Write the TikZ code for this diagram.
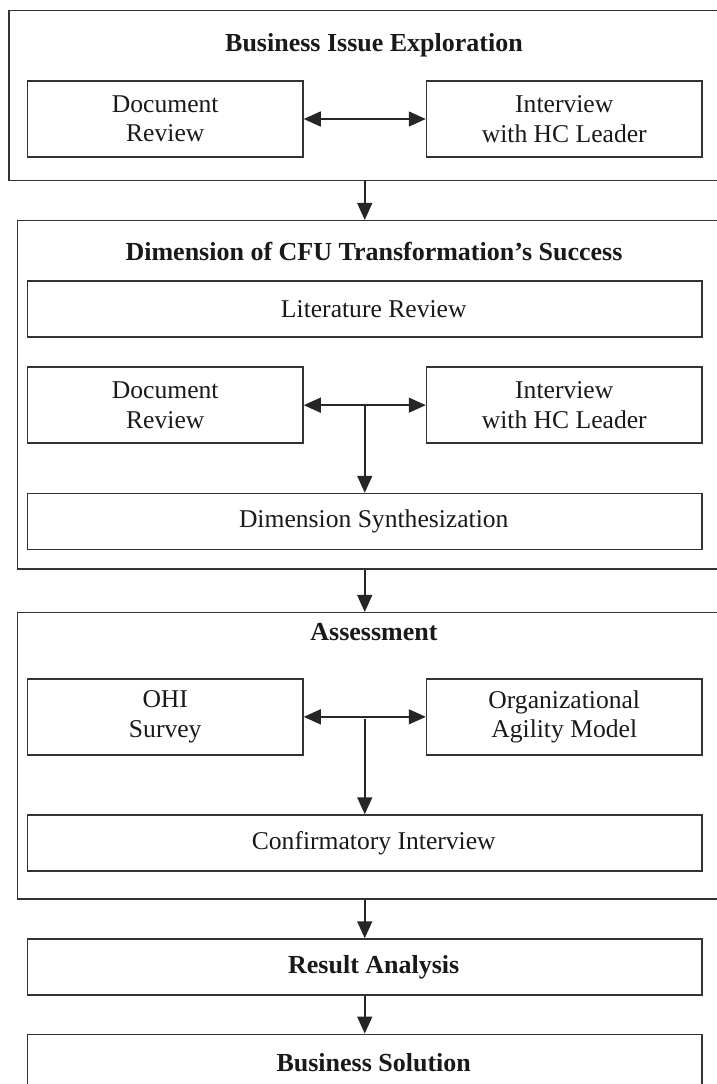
\documentclass[tikz,border=0pt]{standalone}
\usepackage{fontspec}
\setmainfont{Liberation Serif}
\usetikzlibrary{arrows.meta}

\tikzset{
    stage/.style={draw=black!80, line width=0.75pt, inner sep=0pt},
    heading/.style={font=\fontsize{13}{15}\selectfont\bfseries, text=black!90},
    colbox/.style={draw=black!80, line width=0.75pt, inner sep=0pt,
        minimum width=137.75pt, minimum height=38pt, align=center,
        font=\fontsize{12.8}{14.7}\selectfont, text=black!90},
    widebox/.style={draw=black!80, line width=0.75pt, inner sep=0pt,
        minimum width=337.25pt, minimum height=28pt,
        font=\fontsize{12.8}{14.7}\selectfont, text=black!90,
        execute at begin node={\hspace*{9pt}}},
    boldbox/.style={widebox, font=\fontsize{13}{15}\selectfont\bfseries},
    arr/.style={draw=black!85, line width=0.75pt,
        -{Triangle[length=8.5pt, width=7.5pt]}},
    twoway/.style={draw=black!85, line width=0.75pt,
        {Triangle[length=8.5pt, width=7.5pt]}-{Triangle[length=8.5pt, width=7.5pt]}}
}

\begin{document}
\begin{tikzpicture}[x=0.5pt, y=-0.5pt]
\clip (0,0) rectangle (717,1084);

\begin{scope}
    \node[stage, minimum width=360.5pt, minimum height=85pt]
        (explore) at (369.5,95.7) {};
    \node[heading] (exploretitle) at (374,45) {Business Issue Exploration};
    \node[colbox] (docrevA) at (165.25,119) {Document\\Review};
    \node[colbox] (interviewA) at (564.25,119) {Interview\\with HC Leader};
    \draw[twoway] (docrevA) -- (interviewA);
\end{scope}

\begin{scope}
    \node[stage, minimum width=356.35pt, minimum height=174.15pt]
        (dimension) at (373.65,394.85) {};
    \node[heading] (dimensiontitle) at (374,251.7)
        {Dimension of CFU Transformation’s Success};
    \node[widebox] (litrev) at (364.75,308.85) {Literature Review};
    \node[colbox] (docrevB) at (165.25,405.15) {Document\\Review};
    \node[colbox] (interviewB) at (564.25,405.15) {Interview\\with HC Leader};
    \node[widebox] (synth) at (364.75,521.5) {Dimension Synthesization};
    \draw[twoway] (docrevB) -- (interviewB);
    \draw[arr] (synth.north |- docrevB.east) -- (synth.north);
\end{scope}

\begin{scope}
    \node[stage, minimum width=356.35pt, minimum height=143.15pt]
        (assess) at (373.65,755.85) {};
    \node[heading] (assesstitle) at (374,631.7) {Assessment};
    \node[colbox] (ohi) at (165.25,716.85) {OHI\\Survey};
    \node[colbox] (agility) at (564.25,716.85) {Organizational\\Agility Model};
    \node[widebox] (confirm) at (364.75,843) {Confirmatory Interview};
    \draw[twoway] (ohi) -- (agility);
    \draw[arr, shorten <=1.3pt] (confirm.north |- ohi.east) -- (confirm.north);
\end{scope}

\node[boldbox] (result) at (364.75,967) {Result Analysis};
\node[boldbox] (solution) at (364.75,1062.3) {Business Solution};

\draw[arr] (explore.south -| result) -- (dimension.north -| result);
\draw[arr] (dimension.south -| result) -- (assess.north -| result);
\draw[arr] (assess.south -| result) -- (result);
\draw[arr] (result) -- (solution);
\end{tikzpicture}
\end{document}
